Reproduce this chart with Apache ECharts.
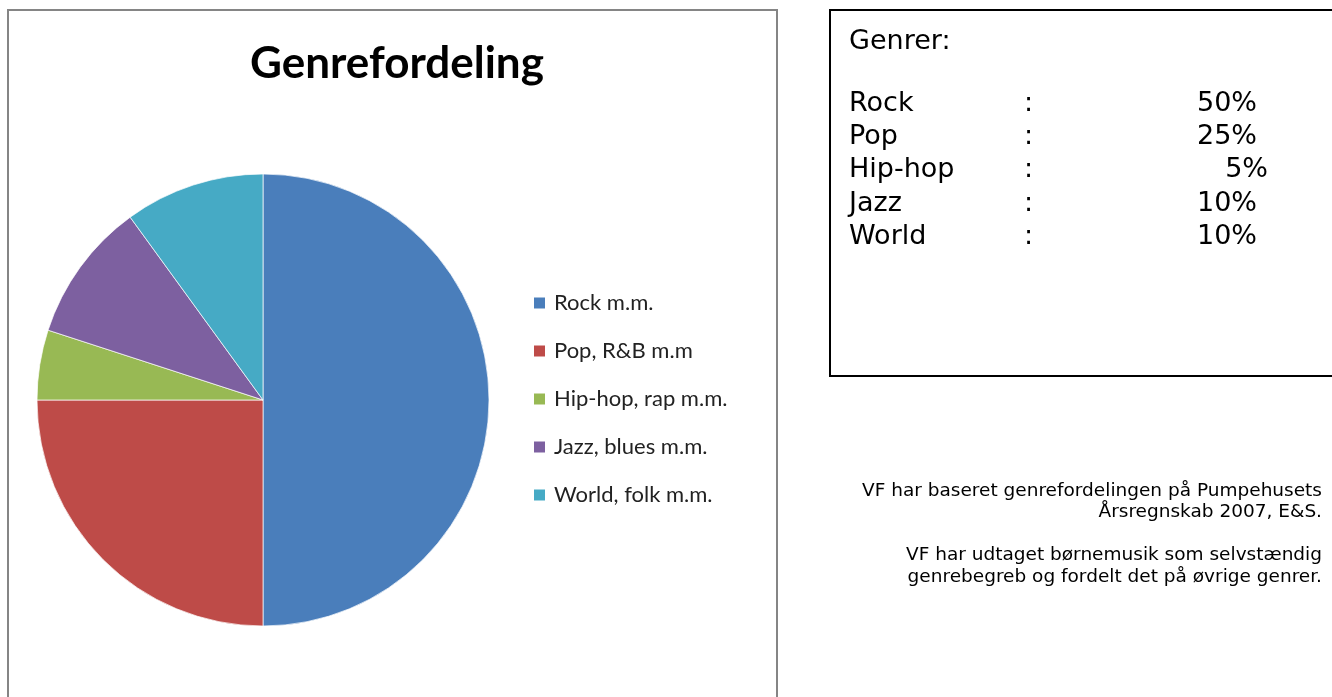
<!DOCTYPE html>
<html>
<head>
<meta charset="utf-8">
<title>Genrefordeling</title>
<script src="https://cdn.jsdelivr.net/npm/echarts@6/dist/echarts.min.js"></script>
<style>
  html, body { margin: 0; padding: 0; background: #fff; }
  #myChart { width: 1332px; height: 697px; }
</style>
</head>
<body>
<div id="myChart"></div>
<script type="text/javascript">
// data
var genres = ['Rock m.m.', 'Pop, R&B m.m', 'Hip-hop, rap m.m.', 'Jazz, blues m.m.', 'World, folk m.m.'];
var shares = [50, 25, 5, 10, 10];
var colors = ['#4A7EBB', '#BE4B48', '#98B954', '#7D60A0', '#46AAC5'];

// tabel til højre
var tableNames = ['Rock', 'Pop', 'Hip-hop', 'Jazz', 'World'];
var tableValues = ['50%', '25%', '5%', '10%', '10%'];
var noteLines = [
    'VF har baseret genrefordelingen på Pumpehusets',
    'Årsregnskab 2007, E&S.',
    '',
    'VF har udtaget børnemusik som selvstændig',
    'genrebegreb og fordelt det på øvrige genrer.'
];

var boxFont = 'Verdana, "DejaVu Sans", sans-serif';

// grafik: rammer og tekst
var graphics = [
    {
        type: 'rect',
        shape: { x: 8, y: 10, width: 769, height: 720 },
        style: { fill: 'none', stroke: '#858585', lineWidth: 2 },
        silent: true
    },
    {
        type: 'rect',
        shape: { x: 830, y: 10, width: 600, height: 366 },
        style: { fill: 'none', stroke: '#000', lineWidth: 2 },
        silent: true
    },
    {
        type: 'text', x: 849, y: 42,
        style: { text: 'Genrer:', font: '27px ' + boxFont, fill: '#000', textVerticalAlign: 'middle' }
    }
];

for (var i = 0; i < tableNames.length; i++) {
    var y = 104 + i * 33.2;
    graphics.push({
        type: 'text', x: 849, y: y,
        style: { text: tableNames[i], font: '27px ' + boxFont, fill: '#000', textVerticalAlign: 'middle' }
    });
    graphics.push({
        type: 'text', x: 1024, y: y,
        style: { text: ':', font: '27px ' + boxFont, fill: '#000', textVerticalAlign: 'middle' }
    });
    // 5% står lidt længere til højre i originalen
    var right = tableValues[i].length < 3 ? 1268 : 1257;
    graphics.push({
        type: 'text', x: right, y: y,
        style: { text: tableValues[i], font: '27px ' + boxFont, fill: '#000', textAlign: 'right', textVerticalAlign: 'middle' }
    });
}

for (var j = 0; j < noteLines.length; j++) {
    if (!noteLines[j]) continue;
    graphics.push({
        type: 'text', x: 1322, y: 491 + j * 21.5,
        style: { text: noteLines[j], font: '18.5px ' + boxFont, fill: '#000', textAlign: 'right', textVerticalAlign: 'middle' }
    });
}

var option = {
    animation: false,
    title: {
        text: 'Genrefordeling',
        left: 392,
        top: 37,
        textAlign: 'center',
        textStyle: {
            fontFamily: 'Lato, "Open Sans", sans-serif',
            fontWeight: 'bold',
            fontSize: 44,
            color: '#000'
        }
    },
    legend: {
        orient: 'vertical',
        left: 532,
        top: 292,
        padding: 0,
        itemWidth: 13,
        itemHeight: 13,
        itemGap: 26,
        icon: 'rect',
        data: genres,
        textStyle: {
            fontFamily: 'Lato, "Open Sans", sans-serif',
            fontSize: 22,
            lineHeight: 22,
            color: '#222',
            padding: [0, 0, 0, 3]
        },
        selectedMode: false
    },
    color: colors,
    graphic: graphics,
    series: [
        {
            type: 'pie',
            center: [263, 400],
            radius: 226,
            startAngle: 90,
            clockwise: true,
            label: { show: false },
            labelLine: { show: false },
            emphasis: { disabled: true },
            itemStyle: { borderColor: '#ffffff', borderWidth: 0.7 },
            data: genres.map(function (g, k) {
                return { name: g, value: shares[k] };
            })
        }
    ]
};

echarts.init(document.getElementById('myChart')).setOption(option);
</script>
</body>
</html>
